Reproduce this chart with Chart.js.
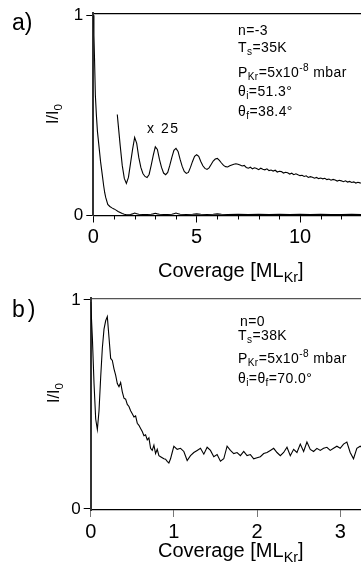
<!DOCTYPE html>
<html>
<head>
<meta charset="utf-8">
<script src="https://cdn.jsdelivr.net/npm/chart.js@4/dist/chart.umd.min.js"></script>
<style>
body { margin: 0; background: #fff; }
#wrap { position: relative; width: 361px; height: 570px; overflow: hidden; font-family: "Liberation Sans", Arial, sans-serif; color: #000; }
canvas { position: absolute; left: 0; }
.t { position: absolute; white-space: nowrap; line-height: 1; }
.sb { font-size: 0.72em; position: relative; top: 0.32em; }
.sp { font-size: 0.72em; position: relative; top: -0.55em; }
.note { font-size: 14px; letter-spacing: 0.4px; }
.xt { font-size: 20px; }
.yt { font-size: 16px; transform: translate(-50%, -50%) rotate(-90deg); }
</style>
</head>
<body>
<div id="wrap">
  <canvas id="chartA" width="361" height="285" style="top:0"></canvas>
  <canvas id="chartB" width="361" height="285" style="top:285px"></canvas>

  <div class="t" style="left:12px;top:10.5px;font-size:23px">a)</div>
  <div class="t yt" style="left:52.5px;top:113.5px">I/I<span class="sb">0</span></div>
  <div class="t xt" style="left:158px;top:260px">Coverage [ML<span class="sb">Kr</span>]</div>
  <div class="t note" style="left:147px;top:121px;letter-spacing:1.5px">x 25</div>
  <div class="t note" style="left:238px;top:23px">n=-3</div>
  <div class="t note" style="left:238px;top:40px">T<span class="sb">s</span>=35K</div>
  <div class="t note" style="left:238px;top:65px">P<span class="sb">Kr</span>=5x10<span class="sp">-8</span> mbar</div>
  <div class="t note" style="left:238px;top:84px">&theta;<span class="sb">i</span>=51.3&deg;</div>
  <div class="t note" style="left:238px;top:104px">&theta;<span class="sb">f</span>=38.4&deg;</div>

  <div class="t" style="left:12px;top:297.5px;font-size:23px;letter-spacing:3px">b)</div>
  <div class="t yt" style="left:53.5px;top:393px">I/I<span class="sb">0</span></div>
  <div class="t xt" style="left:158px;top:540px">Coverage [ML<span class="sb">Kr</span>]</div>
  <div class="t note" style="left:240px;top:314px">n=0</div>
  <div class="t note" style="left:238px;top:328px">T<span class="sb">s</span>=38K</div>
  <div class="t note" style="left:238px;top:351px">P<span class="sb">Kr</span>=5x10<span class="sp">-8</span> mbar</div>
  <div class="t note" style="left:238px;top:371px">&theta;<span class="sb">i</span>=&theta;<span class="sb">f</span>=70.0&deg;</div>
</div>

<script>
// panel a) n=-3, raw signal
const coverageA = [0, 0.03, 0.06, 0.1, 0.15, 0.2, 0.25, 0.3, 0.35, 0.4, 0.45, 0.5, 0.55, 0.6, 0.7, 0.8, 0.9, 1.0, 1.1, 1.2,
    1.3, 1.4, 1.5, 1.6, 1.7, 1.8, 1.9, 2.0, 2.1, 2.2, 2.4, 2.6, 2.8, 2.9, 3.0, 3.1, 3.2, 3.4, 3.6, 3.8,
    3.9, 4.0, 4.1, 4.2, 4.5, 4.8, 5.0, 5.2, 5.5, 5.8, 6.0, 6.2, 6.5, 7.0, 7.5, 8.0, 8.5, 9.0, 9.5, 10.0,
    10.5, 11.0, 11.5, 12.0, 12.5, 13.0];
const intensityA = [1.0, 0.9, 0.78, 0.6, 0.5, 0.42, 0.37, 0.32, 0.27, 0.23, 0.19, 0.15, 0.115, 0.09, 0.055, 0.045, 0.038, 0.033, 0.027, 0.02,
    0.015, 0.01, 0.006, 0.004, 0.004, 0.005, 0.008, 0.012, 0.009, 0.006, 0.005, 0.005, 0.006, 0.008, 0.011, 0.008, 0.006, 0.005, 0.005, 0.006,
    0.009, 0.012, 0.009, 0.006, 0.005, 0.006, 0.008, 0.006, 0.005, 0.006, 0.008, 0.006, 0.005, 0.006, 0.005, 0.006, 0.005, 0.006, 0.005, 0.006,
    0.005, 0.006, 0.005, 0.005, 0.006, 0.005];

// panel a) same signal x 25
const coverageA25 = [1.16, 1.2, 1.3, 1.4, 1.5, 1.6, 1.7, 1.8, 1.9, 2.0,
    2.1, 2.2, 2.3, 2.4, 2.5, 2.6, 2.7, 2.8, 2.9, 3.0,
    3.1, 3.2, 3.3, 3.4, 3.5, 3.6, 3.7, 3.8, 3.9, 4.0,
    4.1, 4.2, 4.3, 4.4, 4.5, 4.6, 4.7, 4.8, 4.9, 5.0,
    5.1, 5.2, 5.3, 5.4, 5.5, 5.6, 5.7, 5.8, 5.9, 6.0,
    6.1, 6.2, 6.3, 6.4, 6.5, 6.6, 6.7, 6.8, 6.9, 7.0,
    7.1, 7.2, 7.3, 7.4, 7.5, 7.6, 7.7, 7.8, 7.9, 8.0,
    8.1, 8.2, 8.3, 8.4, 8.5, 8.6, 8.7, 8.8, 8.9, 9.0,
    9.1, 9.2, 9.3, 9.4, 9.5, 9.6, 9.7, 9.8, 9.9, 10.0,
    10.1, 10.2, 10.3, 10.4, 10.5, 10.6, 10.7, 10.8, 10.9, 11.0,
    11.1, 11.2, 11.3, 11.4, 11.5, 11.6, 11.7, 11.8, 11.9, 12.0,
    12.1, 12.2, 12.3, 12.4, 12.5, 12.6, 12.7, 12.8, 12.9, 13.0];
const intensityA25 = [0.504, 0.46, 0.35, 0.25, 0.185, 0.16, 0.19, 0.26, 0.33, 0.39,
    0.36, 0.29, 0.24, 0.21, 0.195, 0.19, 0.205, 0.25, 0.30, 0.343,
    0.33, 0.28, 0.24, 0.212, 0.204, 0.215, 0.25, 0.29, 0.325, 0.335,
    0.32, 0.28, 0.245, 0.22, 0.21, 0.215, 0.24, 0.27, 0.295, 0.303,
    0.295, 0.27, 0.248, 0.235, 0.23, 0.238, 0.255, 0.272, 0.282, 0.285,
    0.275, 0.262, 0.25, 0.244, 0.242, 0.248, 0.252, 0.256, 0.258, 0.256,
    0.252, 0.247, 0.25, 0.24, 0.236, 0.241, 0.233, 0.238, 0.235, 0.229,
    0.236, 0.231, 0.228, 0.233, 0.224, 0.227, 0.222, 0.226, 0.217, 0.221,
    0.219, 0.212, 0.216, 0.213, 0.207, 0.211, 0.204, 0.208, 0.203, 0.199,
    0.201, 0.195, 0.198, 0.19, 0.194, 0.191, 0.186, 0.19, 0.184, 0.187,
    0.183, 0.186, 0.179, 0.182, 0.176, 0.18, 0.177, 0.172, 0.176, 0.173,
    0.169, 0.173, 0.167, 0.17, 0.165, 0.168, 0.162, 0.166, 0.163, 0.161];

// panel b) n=0
const coverageB = [0, 0.02, 0.04, 0.06, 0.08, 0.1, 0.12, 0.14, 0.16, 0.18,
    0.2, 0.22, 0.24, 0.26, 0.28, 0.3, 0.32, 0.34, 0.36, 0.38,
    0.4, 0.42, 0.44, 0.46, 0.48, 0.5, 0.52, 0.54, 0.56, 0.58,
    0.6, 0.62, 0.64, 0.66, 0.68, 0.7, 0.72, 0.74, 0.76, 0.78,
    0.8, 0.82, 0.84, 0.86, 0.88, 0.9, 0.92, 0.94, 0.96, 0.98, 1.0,
    1.04, 1.08, 1.12, 1.16, 1.2, 1.24, 1.28, 1.32, 1.36, 1.4,
    1.44, 1.48, 1.52, 1.56, 1.6, 1.64, 1.68, 1.72, 1.76, 1.8,
    1.84, 1.88, 1.92, 1.96, 2.0, 2.04, 2.08, 2.12, 2.16, 2.2,
    2.24, 2.28, 2.32, 2.36, 2.4, 2.44, 2.48, 2.52, 2.56, 2.6,
    2.64, 2.68, 2.72, 2.76, 2.8, 2.84, 2.88, 2.92, 2.96, 3.0,
    3.04, 3.08, 3.12, 3.16, 3.2, 3.24, 3.28];
const intensityB = [0.99, 0.82, 0.6, 0.43, 0.38, 0.47, 0.63, 0.77, 0.86, 0.9,
    0.92, 0.82, 0.72, 0.71, 0.67, 0.64, 0.6, 0.585, 0.605, 0.56,
    0.53, 0.525, 0.5, 0.49, 0.47, 0.455, 0.44, 0.445, 0.41, 0.4,
    0.385, 0.37, 0.35, 0.355, 0.33, 0.34, 0.29, 0.28, 0.305, 0.265,
    0.285, 0.255, 0.25, 0.245, 0.24, 0.238, 0.228, 0.22, 0.24, 0.27, 0.3,
    0.285, 0.29, 0.275, 0.232, 0.255, 0.27, 0.28, 0.29, 0.262, 0.295,
    0.28, 0.25, 0.26, 0.228, 0.24, 0.3, 0.28, 0.265, 0.27, 0.255,
    0.275, 0.255, 0.26, 0.24, 0.245, 0.25, 0.265, 0.27, 0.28, 0.29,
    0.27, 0.255, 0.27, 0.295, 0.255, 0.285, 0.27, 0.31, 0.275, 0.32,
    0.285, 0.275, 0.29, 0.28, 0.29, 0.295, 0.28, 0.29, 0.3, 0.29,
    0.31, 0.32, 0.27, 0.24, 0.29, 0.3, 0.29];

const xTicksA = [0, 5, 10];
const xMinorA = [1, 2, 3, 4, 6, 7, 8, 9, 11, 12];
const xTicksB = [0, 1, 2, 3];
const yTicks = [0, 1];

Chart.defaults.font.family = "'Liberation Sans', Arial, sans-serif";
Chart.defaults.color = '#000';

function toPoints(xs, ys) {
    return xs.map((x, i) => ({ x: x, y: ys[i] }));
}

function setTicks(list) {
    return scale => { scale.ticks = list.map(v => ({ value: v })); };
}

// short unlabelled ticks between the labelled ones
const minorTicks = {
    id: 'minorTicks',
    afterDraw(chart, args, opts) {
        if (!opts.values) return;
        const ctx = chart.ctx;
        const sx = chart.scales.x;
        const y0 = chart.chartArea.bottom;
        ctx.save();
        ctx.strokeStyle = '#000';
        ctx.lineWidth = 1;
        opts.values.forEach(v => {
            const px = Math.round(sx.getPixelForValue(v)) + 0.5;
            ctx.beginPath();
            ctx.moveTo(px, y0);
            ctx.lineTo(px, y0 + 4);
            ctx.stroke();
        });
        ctx.restore();
    }
};

function lineSet(data) {
    return {
        data: data,
        borderColor: '#000',
        borderWidth: 1.1,
        pointRadius: 0,
        tension: 0,
        fill: false
    };
}

function options(cfg) {
    return {
        responsive: false,
        animation: false,
        devicePixelRatio: 1,
        layout: { padding: { top: cfg.top, right: 0, left: 0, bottom: 0 } },
        plugins: {
            legend: { display: false },
            tooltip: { enabled: false },
            minorTicks: { values: cfg.minor }
        },
        scales: {
            x: {
                type: 'linear',
                min: 0,
                max: cfg.xMax,
                afterBuildTicks: setTicks(cfg.xTicks),
                afterFit: s => { s.height = cfg.xHeight; },
                grid: { drawOnChartArea: false, tickLength: 7, tickColor: cfg.xTickColor },
                border: { color: '#000', width: 1.2 },
                ticks: { font: { size: 20 }, padding: 3, maxRotation: 0 }
            },
            xTop: {
                type: 'linear',
                position: 'top',
                min: 0,
                max: cfg.xMax,
                afterFit: s => { s.height = 0; },
                grid: { display: false },
                ticks: { display: false },
                border: { color: cfg.topColor, width: 1.2 }
            },
            y: {
                min: cfg.yMin,
                max: cfg.yMax,
                afterBuildTicks: setTicks(yTicks),
                afterFit: s => { s.width = cfg.yWidth; },
                grid: { drawOnChartArea: false, tickLength: 7, tickColor: '#000' },
                border: { color: '#333', width: 2 },
                ticks: { font: { size: 17 }, padding: 3 }
            }
        }
    };
}

new Chart(document.getElementById('chartA'), {
    type: 'line',
    data: {
        datasets: [
            lineSet(toPoints(coverageA, intensityA)),
            lineSet(toPoints(coverageA25, intensityA25))
        ]
    },
    options: options({
        top: 8, xMax: 12.95, xHeight: 69.5, yWidth: 93.3, yMin: 0, yMax: 1.01,
        xTicks: xTicksA, minor: xMinorA, xTickColor: '#000', topColor: '#000'
    }),
    plugins: [minorTicks]
});

new Chart(document.getElementById('chartB'), {
    type: 'line',
    data: {
        datasets: [lineSet(toPoints(coverageB, intensityB))]
    },
    options: options({
        top: 10, xMax: 3.25, xHeight: 60, yWidth: 90.7, yMin: -0.005, yMax: 1.008,
        xTicks: xTicksB, minor: null, xTickColor: '#777', topColor: '#555'
    }),
    plugins: [minorTicks]
});
</script>
</body>
</html>
